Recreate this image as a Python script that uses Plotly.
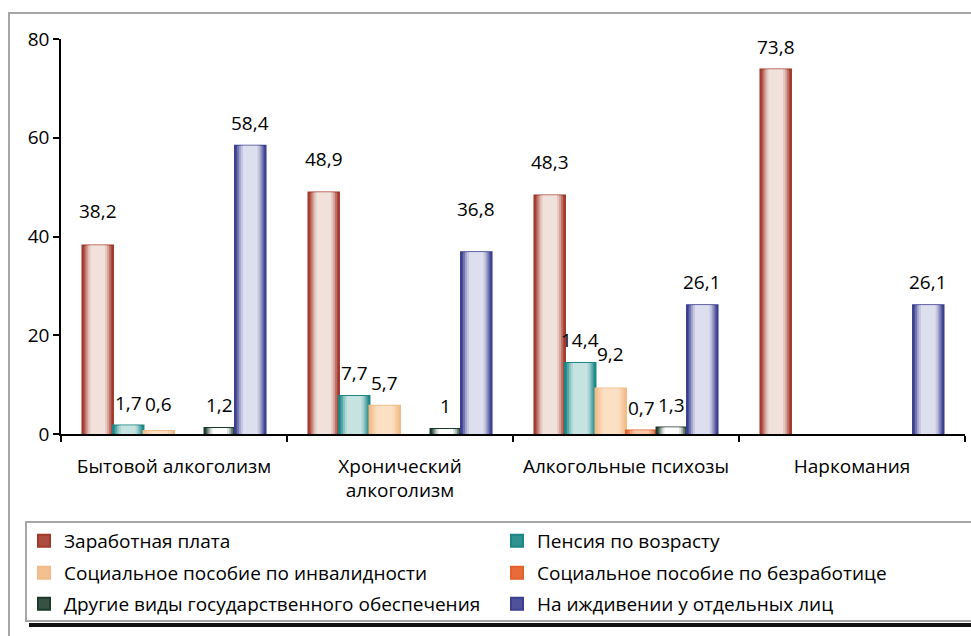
import plotly.graph_objects as go

categories = ["Бытовой алкоголизм", "Хронический<br>алкоголизм", "Алкогольные психозы", "Наркомания"]
series_names = [
    "Заработная плата",
    "Пенсия по возрасту",
    "Социальное пособие по инвалидности",
    "Социальное пособие по безработице",
    "Другие виды государственного обеспечения",
    "На иждивении у отдельных лиц",
]
zarplata = [38.2, 48.9, 48.3, 73.8]
pensiya = [1.7, 7.7, 14.4, None]
invalidnost = [0.6, 5.7, 9.2, None]
bezrabotitsa = [None, None, 0.7, None]
drugie = [1.2, 1.0, 1.3, None]
izhdivenie = [58.4, 36.8, 26.1, 26.1]
series_values = [zarplata, pensiya, invalidnost, bezrabotitsa, drugie, izhdivenie]

# (edge colour, centre colour)
palette = [
    ("#A3392B", "#F0E1DB"),
    ("#1A8785", "#C6E3E2"),
    ("#F2BC88", "#FBE0C4"),
    ("#E5602A", "#F8C8A8"),
    ("#1C3A2A", "#FFFFFF"),
    ("#3C3F90", "#DDDEEE"),
]

# extra lift (px) of a few data labels that sit higher in the original
label_lift = {(0, 0): 11, (0, 1): 11, (0, 2): 11, (5, 1): 20, (2, 2): 12, (2, 0): 4}

FONT = "Open Sans"
FS = 19


def mix(c1, c2, t):
    a = [int(c1[i:i + 2], 16) for i in (1, 3, 5)]
    b = [int(c2[i:i + 2], 16) for i in (1, 3, 5)]
    return "#%02x%02x%02x" % tuple(round(a[k] + (b[k] - a[k]) * t) for k in range(3))


def fmt(v):
    return ("%g" % v).replace(".", ",")


w = 0.135
start = -3 * w
fracs = [1.0, 0.86, 0.74, 0.62, 0.48]
ts = [0.12, 0.35, 0.62, 0.85, 1.0]

fig = go.Figure()
legends = ["legend", "legend", "legend2", "legend2", "legend3", "legend3"]
annotations = []
for i, (name, vals) in enumerate(zip(series_names, series_values)):
    edge, centre = palette[i]
    c = start + (i + 0.5) * w
    for k, (f, t) in enumerate(zip(fracs, ts)):
        bw = w * f
        first = k == 0
        fig.add_trace(go.Bar(
            x=categories, y=vals, name=name,
            width=[bw] * len(categories), offset=[c - bw / 2] * len(categories),
            marker=dict(color=mix(edge, centre, t),
                        line=dict(color=edge if first else mix(edge, centre, t), width=2 if first else 0)),
            showlegend=first, legend=legends[i], hoverinfo="skip" if not first else None,
        ))
    for j, v in enumerate(vals):
        if v is None:
            continue
        annotations.append(dict(
            x=j + c, y=v, xref="x", yref="y", text=fmt(v), showarrow=False,
            yanchor="bottom", yshift=8 + label_lift.get((i, j), 0),
            font=dict(family=FONT, size=FS, color="#000"),
        ))

# pixel helpers
L, R, T, B = 61, 965, 39, 434
W, H = 971, 636


def px(x):
    return (x - L) / (R - L)


def py(y):
    return (B - y) / (B - T)


shapes = [
    dict(type="rect", xref="paper", yref="paper", x0=px(9), x1=px(990), y0=py(13), y1=py(660),
         line=dict(color="#A6A6A6", width=2), fillcolor="rgba(0,0,0,0)", layer="below"),
    dict(type="line", xref="paper", yref="paper", x0=px(29), x1=px(990), y0=py(625), y1=py(625),
         line=dict(color="#111", width=4)),
    dict(type="rect", xref="paper", yref="paper", x0=px(26), x1=px(990), y0=py(522), y1=py(621),
         line=dict(color="#A6A6A6", width=2), fillcolor="white"),
]

leg_common = dict(orientation="h", x=px(24), xanchor="left", yanchor="middle",
                  bgcolor="rgba(0,0,0,0)", borderwidth=0, entrywidth=428,
                  font=dict(family=FONT, size=FS, color="#000"), traceorder="normal")

fig.update_layout(
    width=W, height=H,
    margin=dict(l=L, r=W - R, t=T, b=H - B, pad=0, autoexpand=False),
    paper_bgcolor="white", plot_bgcolor="white",
    barmode="overlay",
    font=dict(family=FONT, size=FS, color="#000"),
    xaxis=dict(type="category", showline=True, linecolor="#000", linewidth=1.5,
               ticks="outside", tickson="boundaries", ticklen=6, tickcolor="#000", tickwidth=1.5,
               showgrid=False, ticklabelstandoff=14, tickfont=dict(family=FONT, size=FS)),
    yaxis=dict(range=[0, 80], dtick=20, showline=True, linecolor="#000", linewidth=1.5,
               ticks="outside", ticklen=6, tickcolor="#000", tickwidth=1.5, showgrid=False,
               zeroline=False, tickfont=dict(family=FONT, size=FS)),
    legend=dict(leg_common, y=py(541)),
    legend2=dict(leg_common, y=py(573)),
    legend3=dict(leg_common, y=py(604)),
    shapes=shapes,
    annotations=annotations,
    showlegend=True,
)

fig.write_html("out.html", config={"displayModeBar": False},
               post_script="document.body.style.margin='0';document.body.style.overflow='hidden';")
